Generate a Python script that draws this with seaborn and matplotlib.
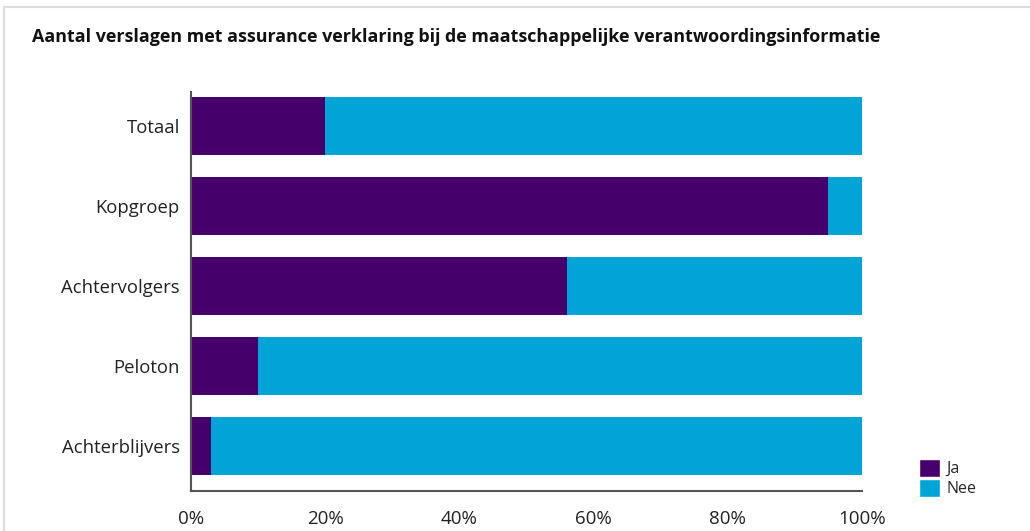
import matplotlib
matplotlib.use("Agg")
import matplotlib.pyplot as plt
import seaborn as sns
import pandas as pd
from matplotlib.patches import Patch, Rectangle

categories = ["Totaal", "Kopgroep", "Achtervolgers", "Peloton", "Achterblijvers"]
ja = [20, 95, 56, 10, 3]
nee = [80, 5, 44, 90, 97]
xticks = [0, 20, 40, 60, 80, 100]
xticklabels = ["0%", "20%", "40%", "60%", "80%", "100%"]
title = "Aantal verslagen met assurance verklaring bij de maatschappelijke verantwoordingsinformatie"

col_ja = "#46006B"
col_nee = "#01A4D6"

sns.set_theme(style="white")
plt.rcParams["font.family"] = ["Open Sans", "DejaVu Sans"]

df = pd.DataFrame({"cat": categories, "ja": ja, "nee": nee})
df["total"] = df["ja"] + df["nee"]

fig = plt.figure(figsize=(10.3, 5.31), dpi=100)
ax = fig.add_axes([191/1030, 40/531, (862-191)/1030, (491-92)/531])

sns.barplot(data=df, x="total", y="cat", color=col_nee, orient="h", width=0.725,
            saturation=1, ax=ax)
sns.barplot(data=df, x="ja", y="cat", color=col_ja, orient="h", width=0.725,
            saturation=1, ax=ax)
for p in ax.patches:
    p.set_linewidth(0)

ax.set_xlim(0, 100)
ax.set_ylim(4 + 0.5625, -0.425)
ax.set_xlabel("")
ax.set_ylabel("")
ax.set_xticks(xticks)
ax.set_xticklabels(xticklabels, fontsize=13.5, color="#222222")
ax.tick_params(axis="x", direction="in", length=9, width=1.2, color="#444444", pad=14)
ax.tick_params(axis="y", length=0, labelsize=13.3, labelcolor="#222222", pad=8)
for s in ["top", "right"]:
    ax.spines[s].set_visible(False)
for s in ["left", "bottom"]:
    ax.spines[s].set_color("#555555")
    ax.spines[s].set_linewidth(1.5)

handles = [Patch(facecolor=col_ja, label="Ja"), Patch(facecolor=col_nee, label="Nee")]
fig.legend(handles=handles, loc="upper left", bbox_to_anchor=(908/1030, 1 - 448/531),
           frameon=False, fontsize=11.5, handlelength=1.3, handleheight=1.3,
           handletextpad=0.4, labelspacing=0.12, borderpad=0.2)

fig.text(32/1030, 1 - 37/531, title, fontsize=12.9, fontweight="bold",
         va="center", ha="left", color="#111111")

fig.patches.append(Rectangle((4/1030, -0.1), 1.2, 1 - 7/531 + 0.1, transform=fig.transFigure,
                             fill=False, edgecolor="#dddddd", linewidth=1.5))

fig.savefig("out.png", dpi=100)
